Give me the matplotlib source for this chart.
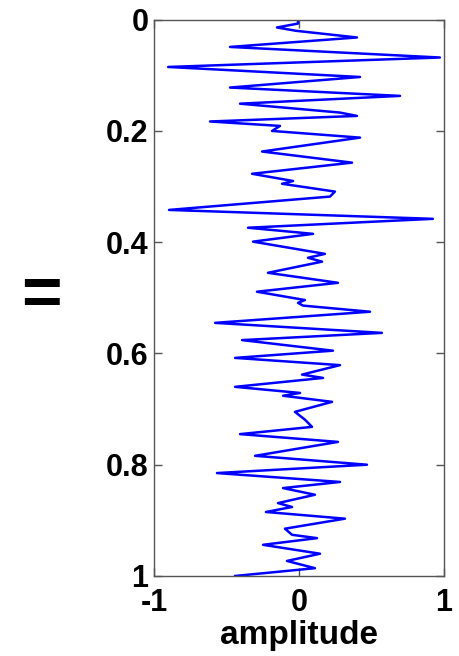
import matplotlib
matplotlib.use('Agg')
import numpy as np
import matplotlib.pyplot as plt

plt.rcParams['font.family'] = ['Liberation Sans', 'DejaVu Sans']
plt.rcParams['font.weight'] = 'bold'

# trace turning points: amplitude and time
amplitude = [-0.007, -0.007, -0.152, -0.02, 0.40, -0.476, 0.972, -0.903, 0.421, -0.476,
             0.697, -0.407, 0.283, 0.40, -0.614, -0.131, -0.186, 0.421, -0.255, 0.366,
             -0.324, -0.041, -0.117, 0.248, 0.214, -0.897, 0.924, -0.352, 0.097, -0.317,
             0.179, 0.062, 0.159, -0.214, 0.269, -0.290, 0.041, -0.007, 0.028, 0.490,
             -0.579, 0.572, -0.393, 0.234, -0.441, 0.283, 0.021, 0.166, -0.441, 0.007,
             -0.110, 0.228, -0.028, 0.041, 0.090, -0.407, 0.269, -0.303, 0.469, -0.566,
             0.283, -0.110, 0.110, -0.145, -0.048, -0.228, 0.317, -0.097, -0.048, 0.124,
             -0.248, 0.145, -0.083, 0.110, -0.441]
time = [0.000, 0.007, 0.014, 0.020, 0.032, 0.049, 0.068, 0.085, 0.103, 0.122,
        0.137, 0.151, 0.167, 0.173, 0.183, 0.191, 0.200, 0.212, 0.237, 0.257,
        0.277, 0.290, 0.295, 0.309, 0.318, 0.342, 0.358, 0.374, 0.385, 0.399,
        0.421, 0.428, 0.435, 0.455, 0.473, 0.489, 0.504, 0.509, 0.514, 0.525,
        0.545, 0.563, 0.576, 0.595, 0.608, 0.621, 0.638, 0.644, 0.660, 0.671,
        0.676, 0.687, 0.705, 0.719, 0.732, 0.745, 0.759, 0.784, 0.800, 0.815,
        0.831, 0.842, 0.854, 0.869, 0.876, 0.885, 0.897, 0.915, 0.926, 0.932,
        0.944, 0.960, 0.973, 0.986, 1.000]

xticks = [-1, 0, 1]
yticks = [0, 0.2, 0.4, 0.6, 0.8, 1]

fig = plt.figure(figsize=(4.6, 6.56), dpi=100)
ax = fig.add_axes([0.335, 0.122, 0.63, 0.848])
ax.plot(amplitude, time, color='#0000ff', linewidth=1.8,
        solid_joinstyle='round')

ax.set_xlim(-1, 1)
ax.set_ylim(1, 0)
ax.set_xticks(xticks)
ax.set_xticklabels(['-1', '0', '1'])
ax.set_yticks(yticks)
ax.set_yticklabels(['0', '0.2', '0.4', '0.6', '0.8', '1'])
ax.tick_params(direction='in', length=6, width=1, labelsize=22, color='#555555',
               top=True, right=True)
ax.tick_params(axis='x', pad=9)
ax.tick_params(axis='y', pad=4)
for s in ax.spines.values():
    s.set_color('#555555')
    s.set_linewidth(1)

ax.set_xlabel('amplitude', fontsize=24, fontweight='bold', labelpad=1)
fig.text(41 / 460, 1 - 297 / 656, '=', fontsize=50, fontweight='bold',
         ha='center', va='center')

fig.savefig('out.png', dpi=100)
